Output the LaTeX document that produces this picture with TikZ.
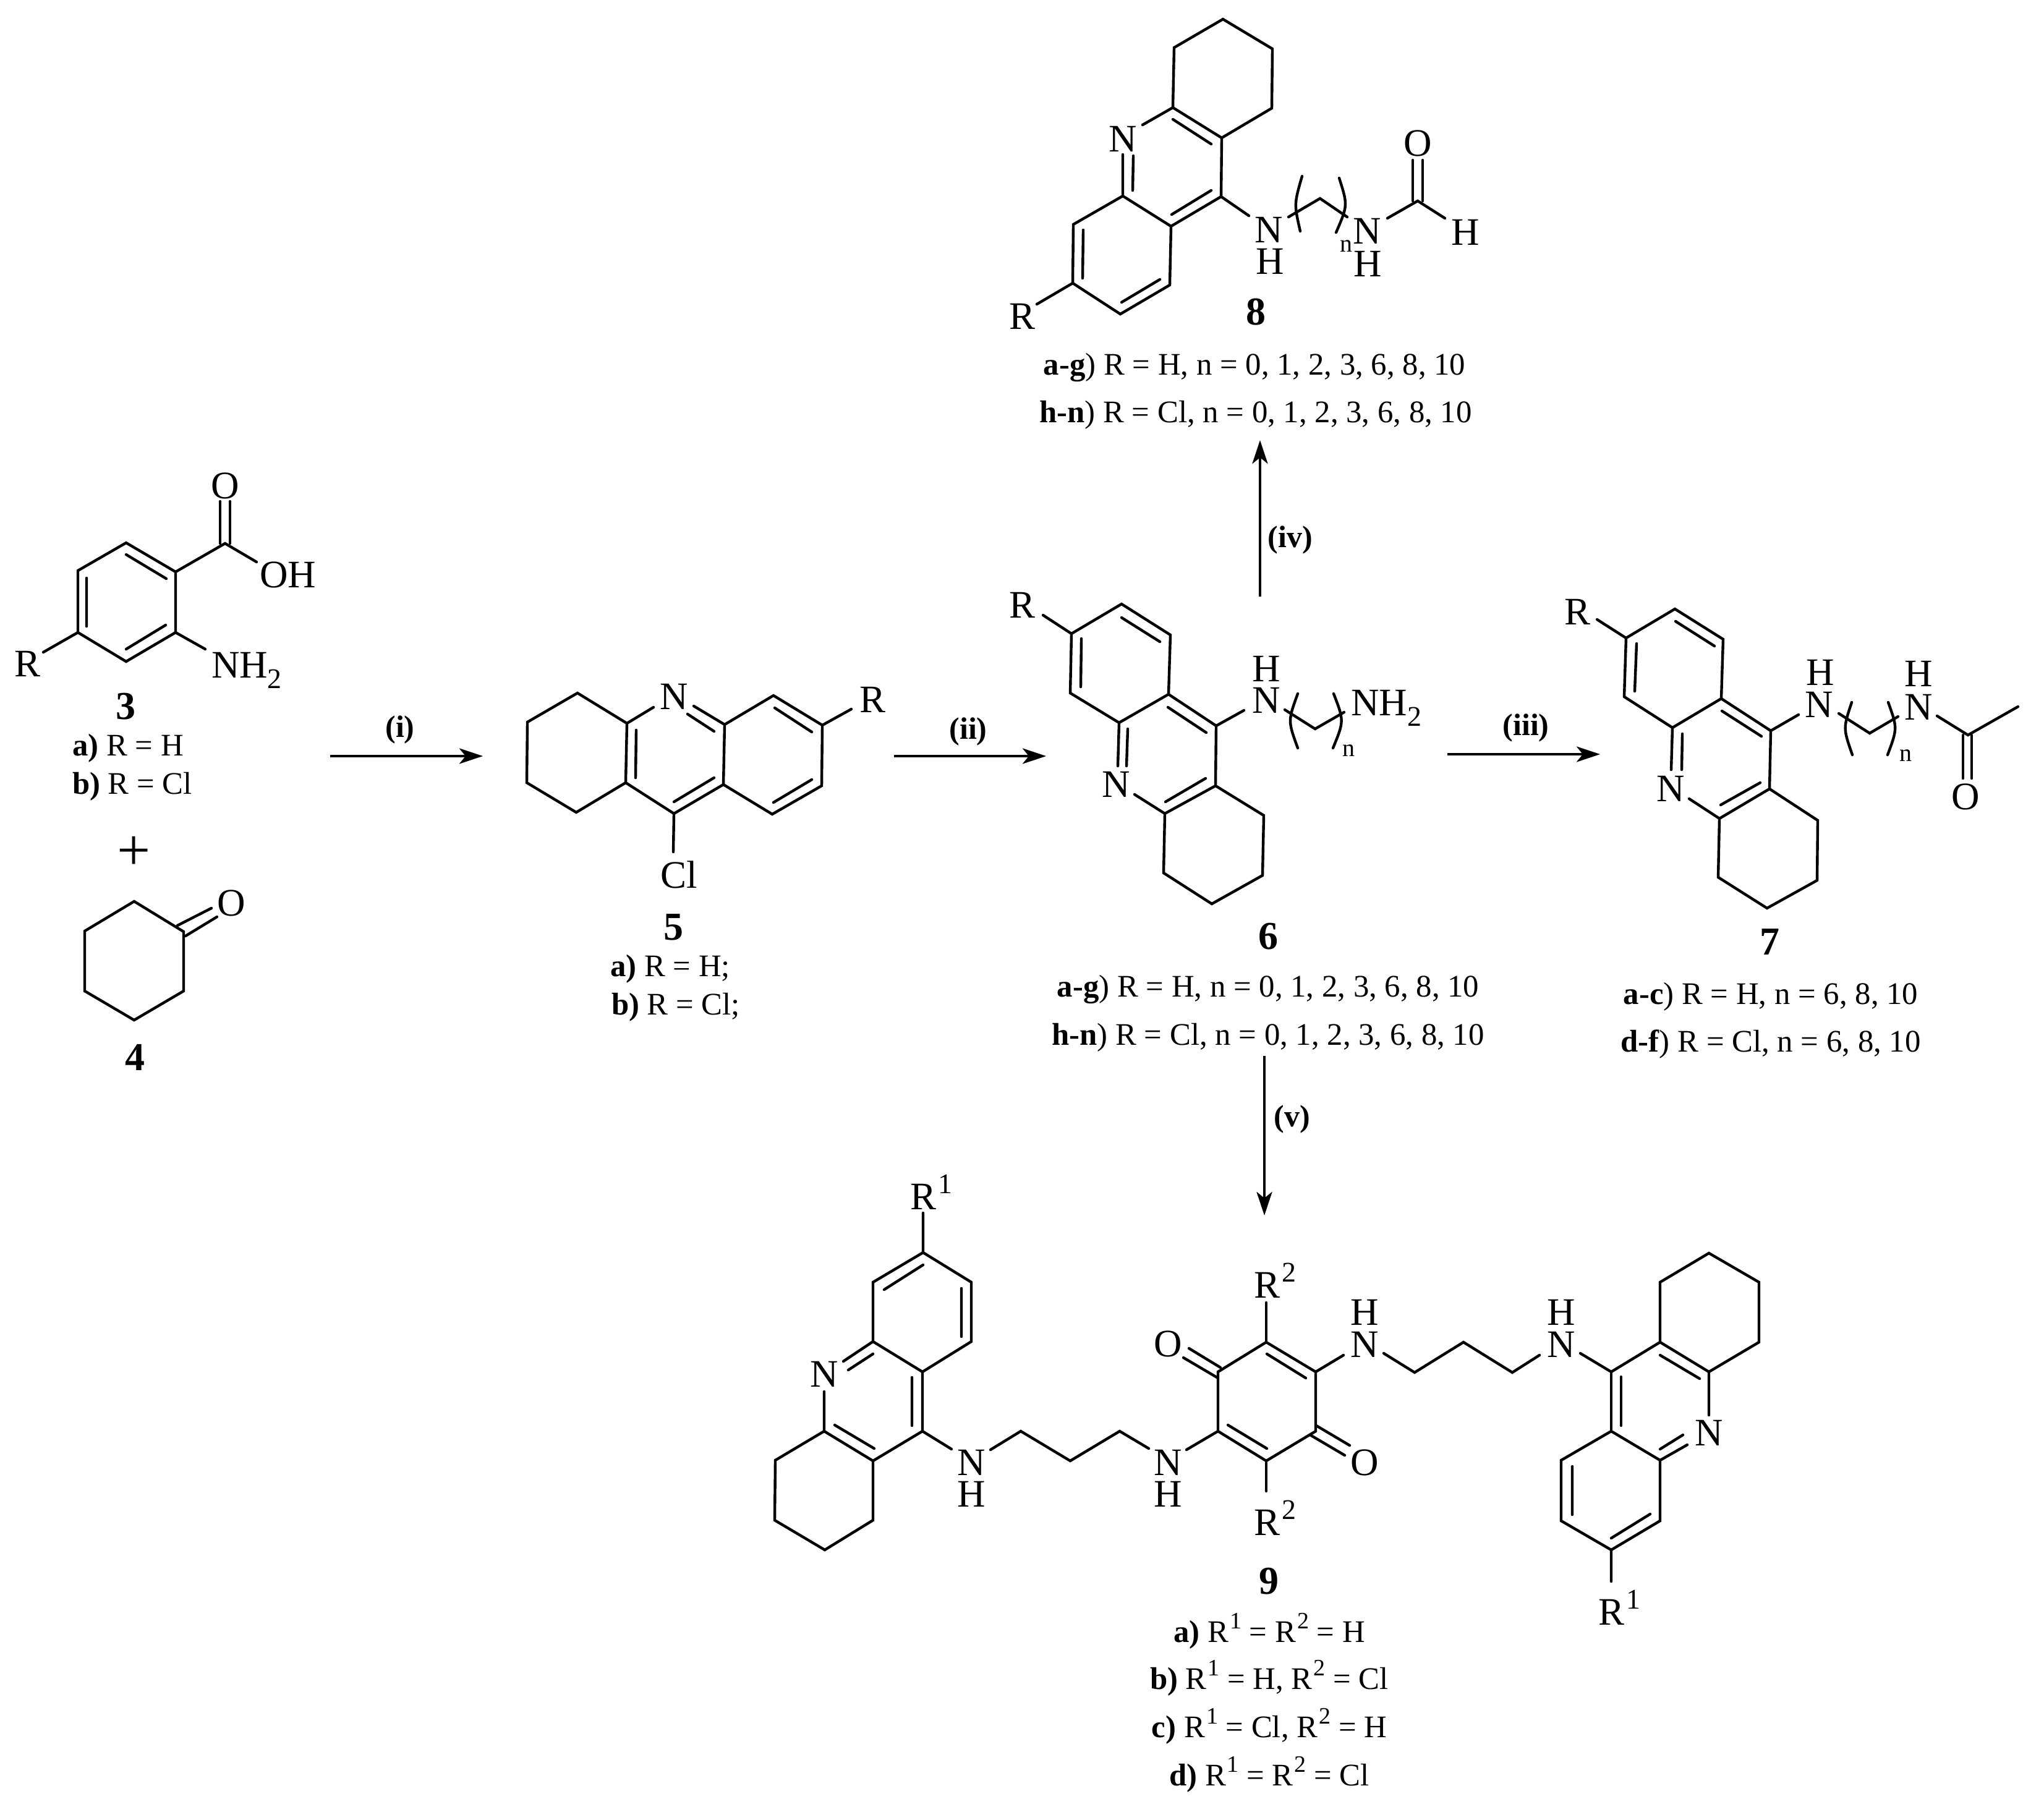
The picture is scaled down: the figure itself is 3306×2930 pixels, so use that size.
\documentclass[tikz,border=0pt]{standalone}
\usepackage{fontspec}
\setmainfont{Liberation Serif}
\usetikzlibrary{arrows.meta}
\newcommand\atomfont{\fontsize{31.5}{33}\selectfont}
\newcommand\lblfont{\fontsize{25.4}{27}\selectfont}
\newcommand\cmpfont{\fontsize{32}{33}\selectfont\bfseries}
\newcommand\stepfont{\fontsize{25}{27}\selectfont\bfseries}
\newcommand\smallnfont{\fontsize{20}{22}\selectfont}
\newcommand\atsup[1]{\hspace{1.5pt}\raisebox{13pt}{\fontsize{23}{23}\selectfont #1}}
\newcommand\atsub[1]{\raisebox{-8.5pt}{\fontsize{23}{23}\selectfont #1}}
\newcommand\lsup[1]{\hspace{1pt}\raisebox{11pt}{\fontsize{19}{19}\selectfont #1}}
\tikzset{
  bond/.style={line width=2.2pt,line cap=round,line join=miter,black},
  arw/.style={line width=2.3pt,black,-{Stealth[length=19pt,width=12.5pt,inset=5pt]}},
  atom/.style={font=\atomfont,inner sep=0pt,outer sep=0pt},
  atomb/.style={atom,anchor=base west},
  lbl/.style={font=\lblfont,inner sep=0pt,anchor=base},
  cmp/.style={font=\cmpfont,inner sep=0pt},
  steplbl/.style={font=\stepfont,inner sep=0pt},
  subn/.style={font=\smallnfont,inner sep=0pt},
}
\begin{document}
\begin{tikzpicture}[x=0.5pt,y=-0.5pt]
\useasboundingbox (0,0) rectangle (3306,2930);
\fill[white] (0,0) rectangle (3306,2930);

% ---------- 3 ----------
\draw[bond] (204,878)--(284,925)--(284,1023)--(204,1070)--(126,1023)--(126,923)--cycle;
\draw[bond] (204,897)--(269,936) (268,1011)--(204,1050) (140,935)--(140,1013);
\draw[bond] (284,925)--(364,879)--(415,909) (284,1023)--(332,1050) (126,1023)--(70,1055);
\draw[bond] (356,879)--(356,811) (372,879)--(372,811);
\node[atom] (o3) at (364,786) {O};
\node[atom] (oh3) at (466,930) {OH};
\node[atomb] (nh3) at (342,1096) {NH\atsub{2}};
\node[atom] (r3) at (45,1074) {R};
\node[cmp] (c3) at (203,1143) {3};
\node[lbl] (l3a) at (207,1222) {\textbf{a)} R = H};
\node[lbl] (l3b) at (214,1284) {\textbf{b)} R = Cl};
\node[font=\fontsize{48}{50}\selectfont,inner sep=0pt] (plus) at (217,1380) {+};

% ---------- 4 ----------
\draw[bond] (217,1458)--(297,1507)--(297,1603)--(217,1650)--(137,1603)--(137,1506)--cycle;
\draw[bond] (287,1497)--(342,1469) (300,1514)--(351,1483);
\node[atom] (o4) at (374,1461) {O};
\node[cmp] (c4) at (218,1710) {4};

% ---------- 5 ----------
\draw[bond] (1014,1170)--(934,1121)--(853,1168)--(852,1266)--(932,1314)--(1012,1266)--cycle;
\draw[bond] (1014,1170)--(1057,1144) (1122,1142)--(1172,1172)--(1170,1269)--(1090,1316)--(1012,1266);
\draw[bond] (1112,1155)--(1155,1183) (1155,1258)--(1090,1297) (1029,1181)--(1028,1258);
\draw[bond] (1090,1316)--(1089,1378);
\draw[bond] (1172,1172)--(1251,1125)--(1330,1173)--(1329,1271)--(1249,1317)--(1170,1269);
\draw[bond] (1253,1145)--(1313,1184) (1313,1261)--(1251,1298) (1330,1173)--(1377,1147);
\node[atom] (n5) at (1090,1127) {N};
\node[atom] (cl5) at (1098,1415) {Cl};
\node[atom] (r5) at (1411,1132) {R};
\node[cmp] (c5) at (1089,1500) {5};
\node[lbl] (l5a) at (1084,1579) {\textbf{a)} R = H;};
\node[lbl] (l5b) at (1093,1641) {\textbf{b)} R = Cl;};

% ---------- 6 ----------
\draw[bond] (1733,1025)--(1814,977)--(1893,1027)--(1890,1123)--(1810,1169)--(1731,1121)--cycle;
\draw[bond] (1814,999)--(1876,1038) (1749,1033)--(1748,1111) (1733,1025)--(1687,995);
\draw[bond] (1890,1123)--(1967,1174)--(1966,1271)--(1884,1316)--(1835,1285);
\draw[bond] (1889,1144)--(1951,1185) (1950,1259)--(1885,1297);
\draw[bond] (1810,1169)--(1808,1239) (1824,1179)--(1822,1239);
\draw[bond] (1966,1271)--(2044,1319)--(2042,1416)--(1960,1462)--(1882,1412)--(1884,1316);
\draw[bond] (1967,1174)--(2012,1149) (2078,1148)--(2127,1179)--(2174,1152);
\draw[bond] (2099,1122) .. controls (2083,1166) .. (2099,1210);
\draw[bond] (2157,1122) .. controls (2174,1166) .. (2156,1210);
\node[atom] (r6) at (1653,979) {R};
\node[atom] (n6) at (1805,1269) {N};
\node[atom] (nn6) at (2048,1133) {N};
\node[atom] (hn6) at (2048,1082) {H};
\node[subn] (s6) at (2181,1214) {n};
\node[atomb] (nh6) at (2185,1157) {NH\atsub{2}};
\node[cmp] (c6) at (2051,1515) {6};
\node[lbl] (l6a) at (2051,1612) {\textbf{a-g}) R = H, n = 0, 1, 2, 3, 6, 8, 10};
\node[lbl] (l6b) at (2051,1690) {\textbf{h-n}) R = Cl, n = 0, 1, 2, 3, 6, 8, 10};

% ---------- 7 ----------
\draw[bond] (2630,1032)--(2709,985)--(2787,1034)--(2784,1130)--(2705,1177)--(2627,1127)--cycle;
\draw[bond] (2710,1005)--(2773,1045) (2647,1041)--(2644,1118) (2630,1032)--(2583,1002);
\draw[bond] (2784,1130)--(2864,1182)--(2862,1276)--(2781,1324)--(2732,1292);
\draw[bond] (2785,1150)--(2849,1191) (2847,1266)--(2783,1302);
\draw[bond] (2705,1177)--(2703,1245) (2721,1187)--(2720,1245);
\draw[bond] (2862,1276)--(2940,1327)--(2939,1424)--(2858,1469)--(2779,1419)--(2781,1324);
\draw[bond] (2864,1182)--(2909,1156) (2974,1154)--(3024,1186)--(3070,1159);
\draw[bond] (2995,1136) .. controls (2981,1178) .. (2996,1221);
\draw[bond] (3054,1136) .. controls (3069,1178) .. (3053,1221);
\draw[bond] (3133,1158)--(3183,1189)--(3264,1143);
\draw[bond] (3175,1189)--(3175,1259) (3189,1189)--(3189,1259);
\node[atom] (r7) at (2551,990) {R};
\node[atom] (n7) at (2702,1276) {N};
\node[atom] (nn7) at (2942,1140) {N};
\node[atom] (hn7) at (2944,1088) {H};
\node[subn] (s7) at (3082,1222) {n};
\node[atom] (mm7) at (3103,1144) {N};
\node[atom] (hm7) at (3103,1090) {H};
\node[atom] (o7) at (3179,1289) {O};
\node[cmp] (c7) at (2862,1524) {7};
\node[lbl] (l7a) at (2864,1624) {\textbf{a-c}) R = H, n = 6, 8, 10};
\node[lbl] (l7b) at (2864,1701) {\textbf{d-f}) R = Cl, n = 6, 8, 10};

% ---------- 8 ----------
\draw[bond] (1978,31)--(2058,79)--(2057,175)--(1976,223)--(1897,174)--(1899,77)--cycle;
\draw[bond] (1848,202)--(1897,174) (1897,193)--(1959,233);
\draw[bond] (1976,223)--(1975,318)--(1894,366)--(1816,317)--(1816,250);
\draw[bond] (1833,252)--(1832,308) (1959,308)--(1895,347);
\draw[bond] (1816,317)--(1736,363)--(1735,458)--(1812,508)--(1892,461)--(1894,366);
\draw[bond] (1752,372)--(1751,450) (1814,489)--(1876,452) (1735,458)--(1677,492);
\draw[bond] (1975,318)--(2020,349) (2084,351)--(2135,321)--(2179,351);
\draw[bond] (2106,285) .. controls (2093,330) .. (2103,374);
\draw[bond] (2166,288) .. controls (2180,332) .. (2161,376);
\draw[bond] (2244,353)--(2293,325)--(2337,353);
\draw[bond] (2285,325)--(2285,259) (2301,325)--(2301,259);
\node[atom] (n8) at (1816,225) {N};
\node[atom] (r8) at (1653,512) {R};
\node[atom] (nn8) at (2052,372) {N};
\node[atom] (hn8) at (2054,423) {H};
\node[subn] (s8) at (2177,398) {n};
\node[atom] (mm8) at (2211,374) {N};
\node[atom] (hm8) at (2212,427) {H};
\node[atom] (o8) at (2293,232) {O};
\node[atom] (h8) at (2370,376) {H};
\node[cmp] (c8) at (2031,505) {8};
\node[lbl] (l8a) at (2029,606) {\textbf{a-g}) R = H, n = 0, 1, 2, 3, 6, 8, 10};
\node[lbl] (l8b) at (2031,683) {\textbf{h-n}) R = Cl, n = 0, 1, 2, 3, 6, 8, 10};

% ---------- 9 left ----------
\draw[bond] (1493,2026)--(1571,2074)--(1571,2170)--(1492,2219)--(1412,2170)--(1412,2074)--cycle;
\draw[bond] (1493,2046)--(1430,2086) (1555,2084)--(1555,2162) (1493,2026)--(1493,1962);
\draw[bond] (1364,2202)--(1412,2170) (1372,2216)--(1412,2190);
\draw[bond] (1492,2219)--(1492,2315)--(1412,2363)--(1333,2315)--(1333,2251);
\draw[bond] (1475,2228)--(1475,2306) (1350,2305)--(1414,2343);
\draw[bond] (1333,2315)--(1254,2362)--(1253,2459)--(1334,2507)--(1412,2459)--(1412,2363);
\draw[bond] (1492,2315)--(1539,2344) (1602,2345)--(1651,2315)--(1731,2363)--(1811,2315)--(1858,2343);
\draw[bond] (1919,2345)--(1970,2315);
\node[atomb] (r9a) at (1472,1956) {R\atsup{1}};
\node[atom] (n9a) at (1333,2223) {N};
\node[atom] (nn9a) at (1571,2366) {N};
\node[atom] (hn9a) at (1571,2417) {H};
\node[atom] (nn9b) at (1889,2366) {N};
\node[atom] (hn9b) at (1889,2417) {H};

% ---------- 9 quinone ----------
\draw[bond] (1970,2315)--(1970,2219)--(2048,2171)--(2128,2219)--(2128,2315)--(2048,2363)--cycle;
\draw[bond] (2049,2190)--(2112,2229) (1986,2305)--(2049,2343);
\draw[bond] (1923,2181)--(1974,2212) (1914,2196)--(1970,2229);
\draw[bond] (2129,2306)--(2183,2338) (2119,2321)--(2175,2354);
\draw[bond] (2048,2171)--(2048,2107) (2048,2363)--(2048,2412);
\node[atom] (o9a) at (1889,2174) {O};
\node[atom] (o9b) at (2207,2366) {O};
\node[atomb] (r9b) at (2028,2099) {R\atsup{2}};
\node[atomb] (r9c) at (2028,2483) {R\atsup{2}};

% ---------- 9 right ----------
\draw[bond] (2128,2219)--(2173,2192) (2238,2189)--(2288,2220)--(2367,2171)--(2446,2220)--(2490,2192) (2556,2189)--(2606,2219);
\draw[bond] (2606,2219)--(2685,2171)--(2764,2219)--(2845,2171)--(2845,2074)--(2764,2027)--(2685,2074)--(2685,2171);
\draw[bond] (2685,2192)--(2749,2230) (2764,2219)--(2764,2289);
\draw[bond] (2729,2337)--(2685,2362) (2722,2321)--(2685,2344);
\draw[bond] (2606,2219)--(2606,2315) (2622,2227)--(2622,2306);
\draw[bond] (2685,2362)--(2606,2315)--(2525,2362)--(2525,2460)--(2606,2507)--(2685,2460)--cycle;
\draw[bond] (2543,2372)--(2543,2450) (2606,2488)--(2669,2449) (2606,2507)--(2606,2558);
\node[atom] (nn9c) at (2207,2175) {N};
\node[atom] (hn9c) at (2207,2123) {H};
\node[atom] (nn9d) at (2525,2175) {N};
\node[atom] (hn9d) at (2525,2123) {H};
\node[atom] (n9b) at (2764,2318) {N};
\node[atomb] (r9d) at (2585,2628) {R\atsup{1}};
\node[cmp] (c9) at (2052,2558) {9};
\node[lbl] (l9a) at (2053,2656) {\textbf{a)} R\lsup{1} = R\lsup{2} = H};
\node[lbl] (l9b) at (2053,2732) {\textbf{b)} R\lsup{1} = H, R\lsup{2} = Cl};
\node[lbl] (l9c) at (2053,2810) {\textbf{c)} R\lsup{1} = Cl, R\lsup{2} = H};
\node[lbl] (l9d) at (2053,2888) {\textbf{d)} R\lsup{1} = R\lsup{2} = Cl};

% ---------- arrows ----------
\coordinate (a1s) at (534,1223); \coordinate (a1e) at (781,1223);
\coordinate (a2s) at (1446,1223); \coordinate (a2e) at (1692,1223);
\coordinate (a3s) at (2341,1220); \coordinate (a3e) at (2588,1220);
\coordinate (a4s) at (2038,965); \coordinate (a4e) at (2038,712);
\coordinate (a5s) at (2045,1708); \coordinate (a5e) at (2045,1966);
\draw[arw] (a1s)--(a1e);
\draw[arw] (a2s)--(a2e);
\draw[arw] (a3s)--(a3e);
\draw[arw] (a4s)--(a4e);
\draw[arw] (a5s)--(a5e);
\node[steplbl] (si) at (647,1180) {(i)};
\node[steplbl] (sii) at (1566,1183) {(ii)};
\node[steplbl] (siii) at (2468,1177) {(iii)};
\node[steplbl] (siv) at (2087,873) {(iv)};
\node[steplbl] (sv) at (2090,1810) {(v)};
\end{tikzpicture}
\end{document}
